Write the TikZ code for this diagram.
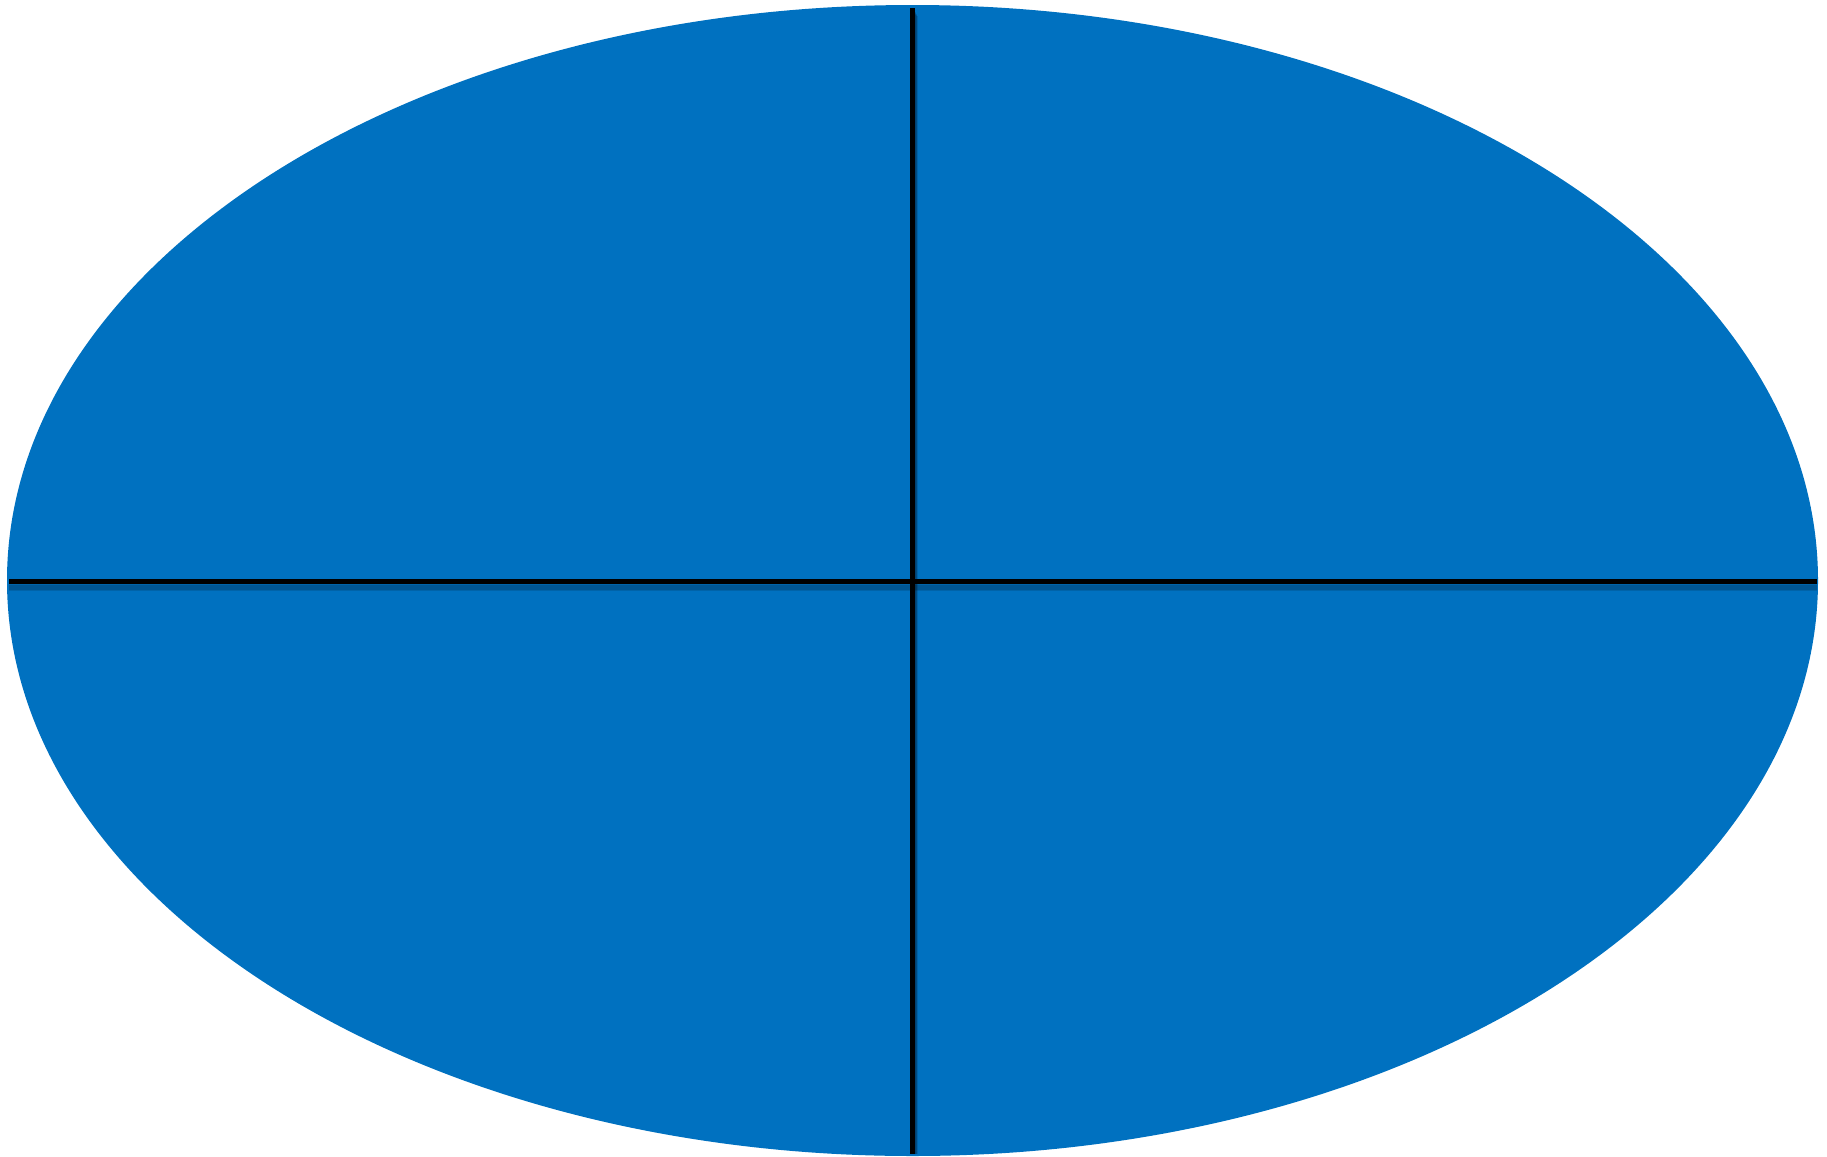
\documentclass[tikz,border=0pt]{standalone}
\usepackage{xcolor}
\usepackage{tikz}
\usetikzlibrary{shapes.geometric, positioning, calc}

\definecolor{discblue}{RGB}{0,113,192}

\begin{document}
\begin{tikzpicture}[
    x=0.5pt, y=-0.5pt,
    disc/.style={draw=none, ellipse, fill=discblue, inner sep=0pt, minimum width=905.5pt, minimum height=575.5pt},
    axisline/.style={draw=black, line width=2.6pt},
    axisshade/.style={draw=black, line width=1pt, opacity=0.12}
]
    \useasboundingbox (0, 0) rectangle (1827, 1157);

    % ================= DISC =================
    \node[disc] (DISC) at (912.5, 580.5) {};

    % ================= AXIS END POINTS =================
    \coordinate (h_left)  at (9, 581.5);
    \coordinate (h_right) at (1817, 581.5);
    \coordinate (v_top)   at (912.5, 8);
    \coordinate (v_bot)   at (912.5, 1154);

    % ================= SOFT SHADOWS =================
    \foreach \d in {1,2,...,6} {
        \draw[axisshade] ($(h_left)+(0,2+\d)$) -- ($(h_right)+(0,2+\d)$);
        \draw[axisshade] ($(v_top)+(1+\d*0.5,2+\d)$) -- ($(v_bot)+(1+\d*0.5,0)$);
    }

    % ================= AXES =================
    \draw[axisline] (h_left) -- (h_right);
    \draw[axisline] (v_top) -- (v_bot);

\end{tikzpicture}
\end{document}
